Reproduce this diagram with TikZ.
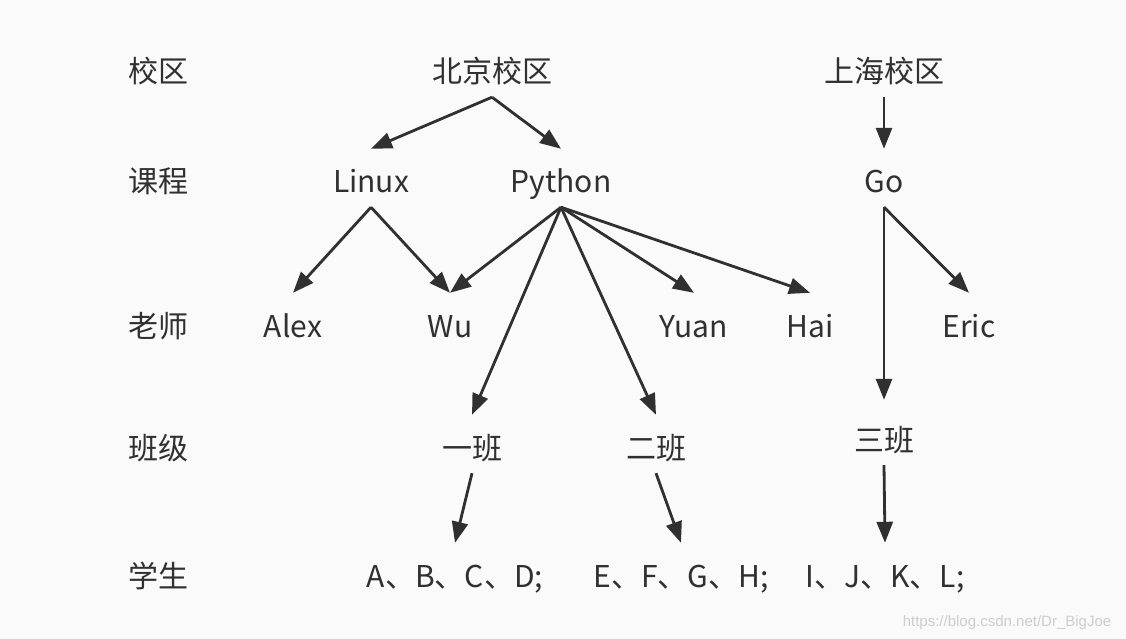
\documentclass[tikz,border=0pt]{standalone}
\usepackage{fontspec}
\setmainfont{Noto Sans CJK SC}
\newfontfamily\wmfont{Liberation Sans}
\usetikzlibrary{arrows.meta}
\definecolor{ink}{HTML}{303030}
\definecolor{bg}{HTML}{FAFAFA}
\definecolor{wm}{HTML}{CDCDCD}

\begin{document}
\begin{tikzpicture}[x=1pt,y=-1pt,
lbl/.style={inner sep=0pt,anchor=base,text height=44pt,text depth=14pt,
  text=ink,font=\fontsize{30}{35}\selectfont},
arr/.style={draw=ink,line width=2.8pt,-{Triangle[length=21pt,width=16pt]}}]
\fill[bg] (0,0) rectangle (1126,639);
\useasboundingbox (0,0) rectangle (1126,639);
\node[lbl] (xq) at (158,83) {校区};
\node[lbl] (kc) at (158,193) {课程};
\node[lbl] (ls) at (158,337) {老师};
\node[lbl] (bj) at (158,459) {班级};
\node[lbl] (xs) at (158,587) {学生};
\node[lbl] (beijing) at (492,83) {北京校区};
\node[lbl] (shanghai) at (884,83) {上海校区};
\node[lbl] (linux) at (371,193) {Linux};
\node[lbl] (python) at (561,193) {Python};
\node[lbl] (go) at (884,193) {Go};
\node[lbl] (alex) at (293,337) {Alex};
\node[lbl] (wu) at (450,337) {Wu};
\node[lbl] (yuan) at (694,337) {Yuan};
\node[lbl] (hai) at (810,337) {Hai};
\node[lbl] (eric) at (969,337) {Eric};
\node[lbl] (ban1) at (472,459) {一班};
\node[lbl] (ban2) at (656,459) {二班};
\node[lbl] (ban3) at (884,451) {三班};
\node[lbl] (stu1) at (455,587) {A、B、C、D;};
\node[lbl] (stu2) at (681,587) {E、F、G、H;};
\node[lbl] (stu3) at (885,587) {I、J、K、L;};
\node[text=wm,font=\wmfont\fontsize{15}{18}\selectfont,anchor=base] (wmk) at (1007,626) {https://blog.csdn.net/Dr\_BigJoe};
\draw[arr] (beijing.south) -- (linux.north);
\draw[arr] (beijing.south) -- (python.north);
\draw[arr] (shanghai.south) -- (go.north);
\draw[arr] (linux.south) -- (alex.north);
\draw[arr] (linux.south) -- (wu.north);
\draw[arr] (python.south) -- (wu.north);
\draw[arr] (python.south) -- (ban1.north);
\draw[arr] (python.south) -- (ban2.north);
\draw[arr] (python.south) -- (yuan.north);
\draw[arr] (python.south) -- (hai.north);
\draw[arr] (go.south) -- (eric.north);
\draw[arr] (go.south) -- ([yshift=7pt]ban3.north);
\draw[arr] (ban1.south) -- (stu1.north);
\draw[arr] (ban2.south) -- (stu2.north);
\draw[arr] (ban3.south) -- (stu3.north);
\end{tikzpicture}
\end{document}
